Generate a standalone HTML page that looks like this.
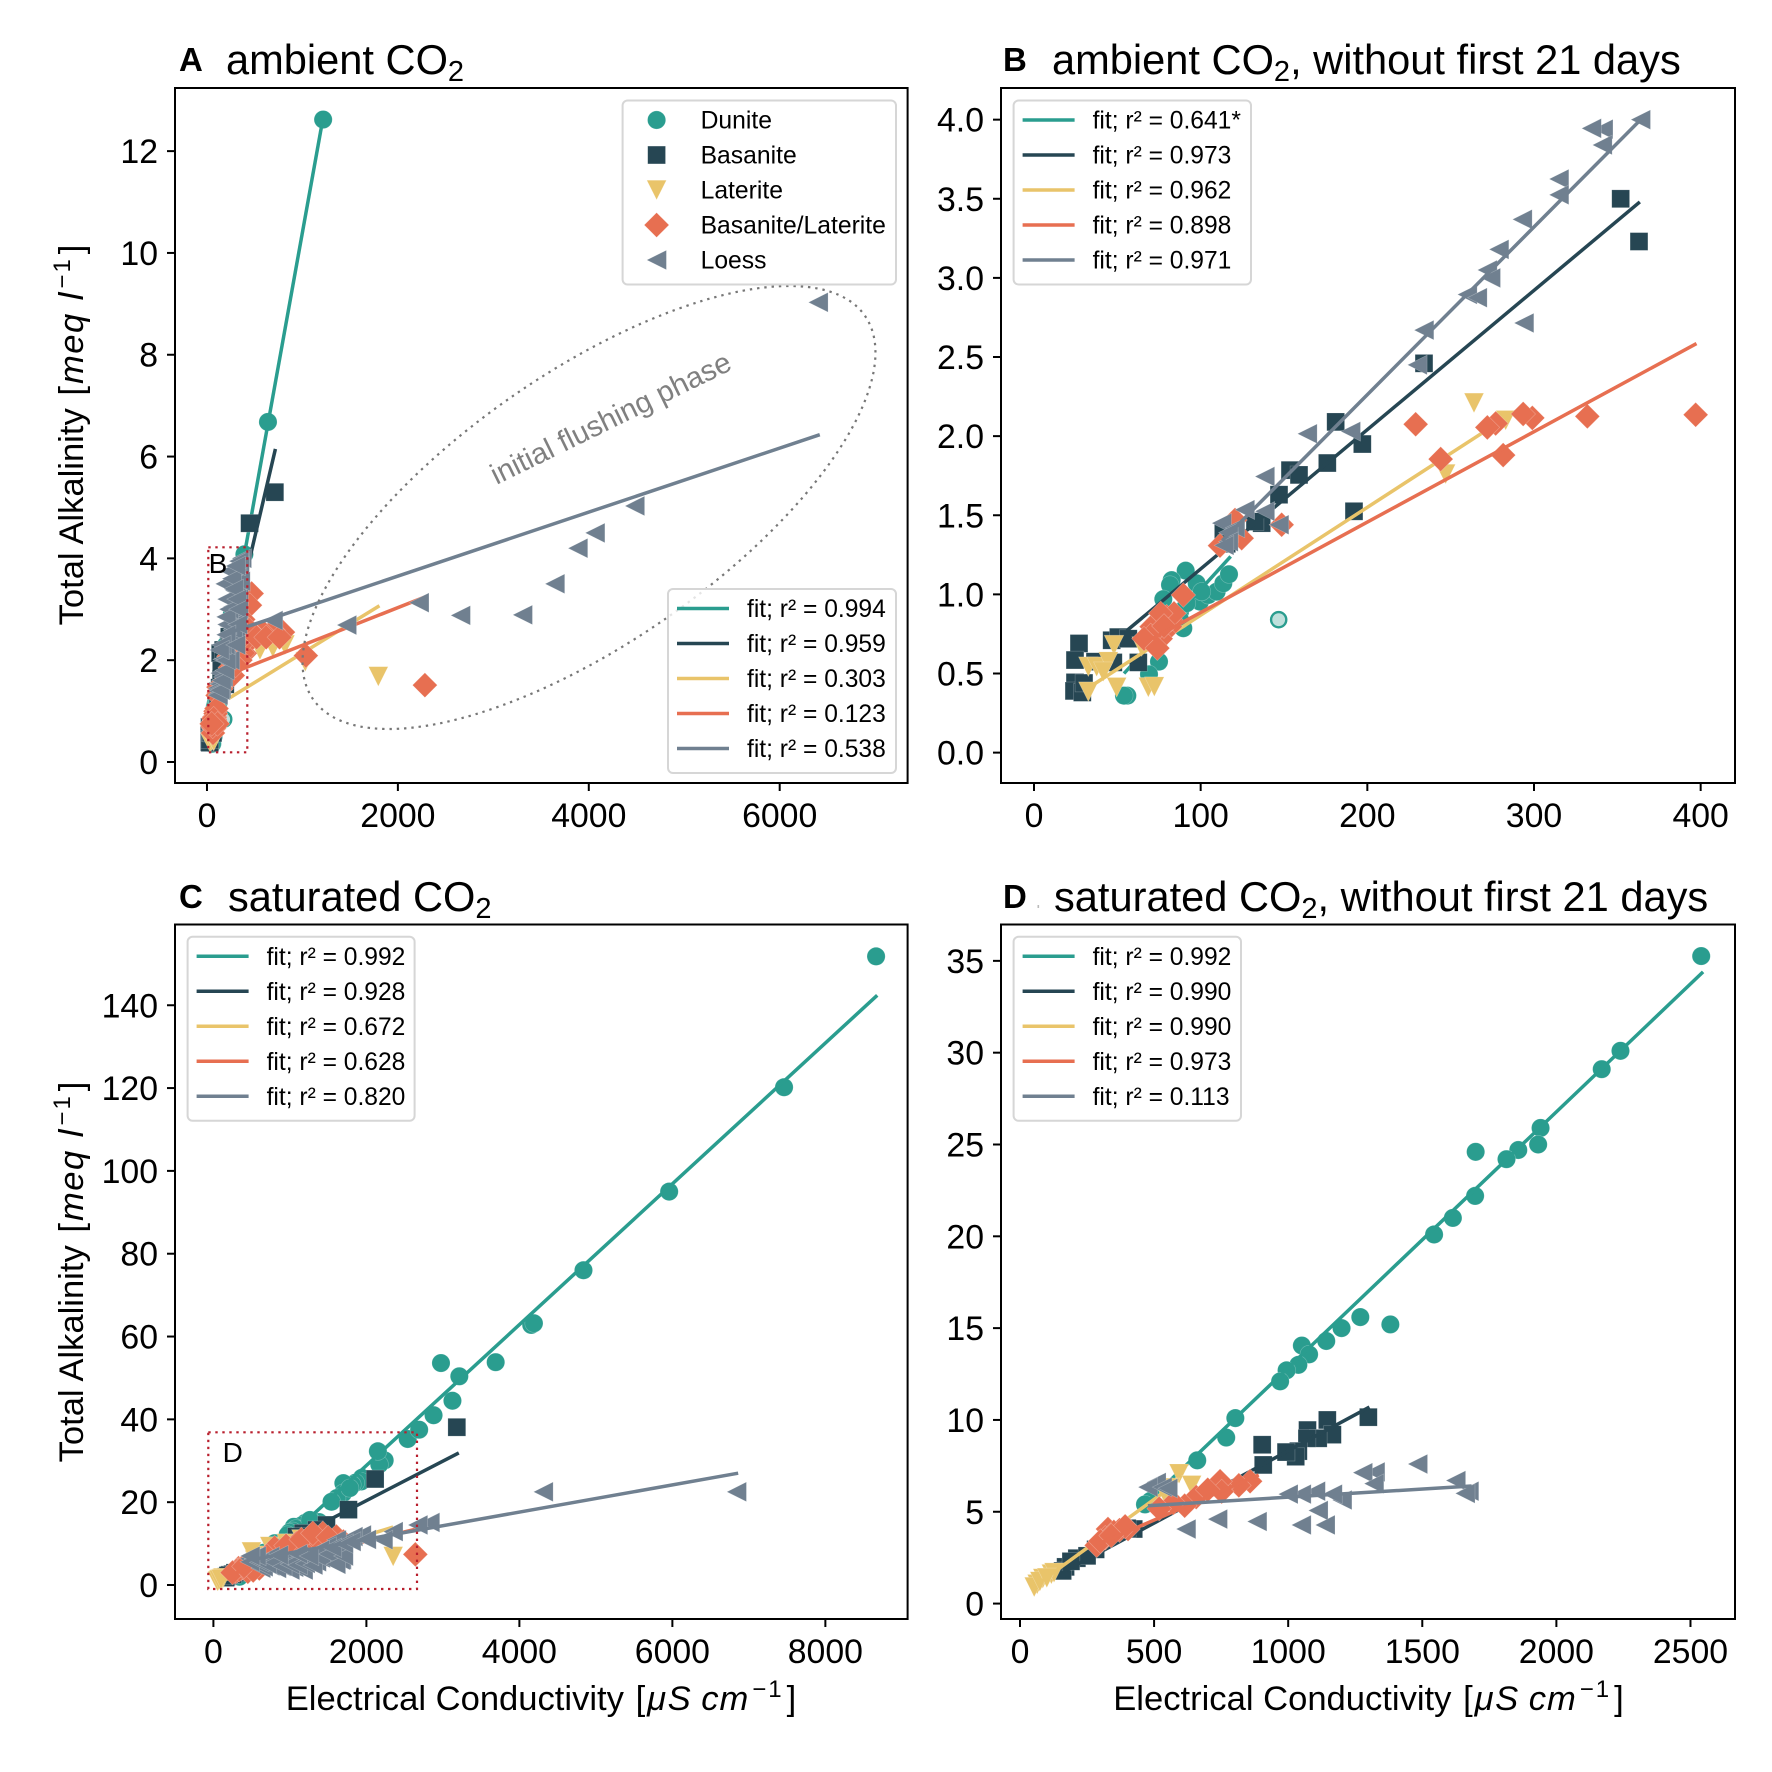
<!DOCTYPE html>
<html lang="en">
<head>
<meta charset="utf-8">
<title>Total Alkalinity vs Electrical Conductivity</title>
<style>
html,body{margin:0;padding:0;background:#fff;}
svg{display:block;font-family:"Liberation Sans",sans-serif;}
</style>
</head>
<body>
<svg id="chart" width="1772" height="1772" viewBox="0 0 1772 1772"></svg>
<script>
/* ---------- tick labels ---------- */
const panelA_xTicks = [0, 2000, 4000, 6000];
const panelA_yTicks = [0, 2, 4, 6, 8, 10, 12];
const panelB_xTicks = [0, 100, 200, 300, 400];
const panelB_yTicks = ["0.0", "0.5", "1.0", "1.5", "2.0", "2.5", "3.0", "3.5", "4.0"];
const panelC_xTicks = [0, 2000, 4000, 6000, 8000];
const panelC_yTicks = [0, 20, 40, 60, 80, 100, 120, 140];
const panelD_xTicks = [0, 500, 1000, 1500, 2000, 2500];
const panelD_yTicks = [0, 5, 10, 15, 20, 25, 30, 35];

/* ---------- axis domains ---------- */
const panelA_xDomain = [-335, 7340];
const panelA_yDomain = [-0.4126, 13.24];
const panelB_xDomain = [-19.8, 420.6];
const panelB_yDomain = [-0.192, 4.2];
const panelC_xDomain = [-502, 9075];
const panelC_yDomain = [-8.21, 159.5];
const panelD_xDomain = [-70.8, 2666];
const panelD_yDomain = [-0.84, 36.98];

/* ---------- categories and fit labels ---------- */
const seriesNames = ["Dunite", "Basanite", "Laterite", "Basanite/Laterite", "Loess"];
const panelA_r2 = ["0.994", "0.959", "0.303", "0.123", "0.538"];
const panelB_r2 = ["0.641*", "0.973", "0.962", "0.898", "0.971"];
const panelC_r2 = ["0.992", "0.928", "0.672", "0.628", "0.820"];
const panelD_r2 = ["0.992", "0.990", "0.990", "0.973", "0.113"];

/* ---------- panel B: ambient, without first 21 days ---------- */
const panelB_dunite_x = [91,82.6,81.6,77.6,99.6,104.6,109.6,113.6,117,87.6,89.6,75,69,56,54,97.6,100.6,91.6,87.6];
const panelB_dunite_y = [1.15,1.09,1.06,0.97,0.954,0.996,1.017,1.07,1.127,0.89,0.786,0.575,0.495,0.36,0.36,1.07,1.017,0.944,0.84];
const panelB_outlier_x = [146.8];
const panelB_outlier_y = [0.84];
const panelB_basanite_x = [352,363,234,181,197,176,153.6,159,147,192,136.6,132.6,113.6,115.6,27,24.6,24.6,24,29,30,36.6,46.6,50.6,56.6,47.6,62.6];
const panelB_basanite_y = [3.5,3.23,2.46,2.09,1.95,1.83,1.785,1.755,1.63,1.525,1.45,1.46,1.386,1.32,0.69,0.585,0.444,0.39,0.38,0.44,0.575,0.71,0.73,0.72,0.57,0.57];
const panelB_laterite_x = [264,283,247,48,64.6,32.6,37.6,44.6,41.6,32.6,49.6,68.6,72.2];
const panelB_laterite_y = [2.21,2.1,1.76,0.68,0.67,0.543,0.543,0.575,0.511,0.385,0.413,0.413,0.417];
const panelB_baslat_x = [397,332,299,293.5,277,272,229,244,281.5,148.6,120.6,124.6,111.6,89.6,75.6,79.6,81.6,73.6,77.6,72.6,70.6,71,76,82,84,76,70,66,74,78];
const panelB_baslat_y = [2.135,2.125,2.115,2.14,2.08,2.055,2.075,1.855,1.88,1.44,1.47,1.355,1.308,0.996,0.817,0.859,0.796,0.733,0.754,0.68,0.796,0.72,0.72,0.84,0.88,0.88,0.74,0.72,0.66,0.8];
const panelB_loess_x = [364,341.5,334.5,341,315,315,293,279,272,274,260,266,234,294,230,164,190,138.5,126.5,138.5,147,112.6,120.6,116.6,116.6,114];
const panelB_loess_y = [4.0,3.94,3.945,3.84,3.625,3.525,3.37,3.18,3.05,3.0,2.895,2.875,2.67,2.715,2.45,2.015,2.03,1.745,1.535,1.525,1.44,1.45,1.42,1.39,1.333,1.31];
const panelB_fitDunite_x = [54,118];
const panelB_fitDunite_y = [0.5,1.24];
const panelB_fitBasanite_x = [55.6,363.5];
const panelB_fitBasanite_y = [0.77,3.48];
const panelB_fitLaterite_x = [32,289.5];
const panelB_fitLaterite_y = [0.405,2.16];
const panelB_fitBaslat_x = [71,397.5];
const panelB_fitBaslat_y = [0.72,2.585];
const panelB_fitLoess_x = [113,364];
const panelB_fitLoess_y = [1.34,4.0];

/* ---------- panel A: ambient, all days ---------- */
const panelA_dunite_x = panelB_dunite_x.concat([1217,639,392,120,140,170,200,260]);
const panelA_dunite_y = panelB_dunite_y.concat([12.62,6.68,4.08,1.2,1.4,1.8,2.3,2.9]);
const panelA_outlier_x = [175];
const panelA_outlier_y = [0.84];
const panelA_basanite_x = panelB_basanite_x.concat([711,446,139,170,150]);
const panelA_basanite_y = panelB_basanite_y.concat([5.3,4.69,2.14,2.2,1.8]);
const panelA_laterite_x = panelB_laterite_x.concat([1795,1030,555,690,817,170,130]);
const panelA_laterite_y = panelB_laterite_y.concat([1.68,1.97,2.2,2.25,2.3,1.4,1.1]);
const panelA_baslat_x = panelB_baslat_x.concat([2283,1036,796,692,587,482,419,377,314,468,450,84,63,430,350,270,60,90,100,70,110,50,400,350,300,380,440,520,620,760]);
const panelA_baslat_y = panelB_baslat_y.concat([1.51,2.09,2.55,2.59,2.55,2.53,2.33,2.14,1.94,3.31,3.08,0.82,0.57,2.6,2.3,1.7,0.7,0.95,1.05,0.85,0.75,0.75,2.5,2.0,1.9,2.8,2.6,2.45,2.45,2.45]);
const panelA_loess_x = panelB_loess_x.concat([6404,4482,4066,3886,3645,3307,2657,2223,1464,692,241,168,136,150,185,200,190,250,300,270,210,330,350,240,190,210,230,200,260,300,280,310,330,320,200,150,130,300]);
const panelA_loess_y = panelB_loess_y.concat([9.03,5.03,4.5,4.2,3.5,2.89,2.88,3.13,2.69,2.78,2.0,1.67,1.41,1.6,1.8,2.0,2.3,2.4,2.5,2.6,2.7,3.3,3.55,3.75,3.5,3.2,3.0,2.85,3.6,3.85,3.4,3.2,3.0,2.7,2.5,2.3,2.2,2.3]);
const panelA_fitDunite_x = [60,1211];
const panelA_fitDunite_y = [0.62,12.6];
const panelA_fitBasanite_x = [30,717];
const panelA_fitBasanite_y = [0.65,6.15];
const panelA_fitLaterite_x = [229,1807];
const panelA_fitLaterite_y = [1.25,3.07];
const panelA_fitBaslat_x = [320,2295];
const panelA_fitBaslat_y = [1.79,3.25];
const panelA_fitLoess_x = [200,6420];
const panelA_fitLoess_y = [2.52,6.43];

/* ---------- panel D: saturated, without first 21 days ---------- */
const panelD_dunite_x = [2540,2239,2169,1941,1932,1858,1814,1699,1697,1614,1544,1381,1269,1199,1142,1051,1078,1038,994,970,803,769,661,487,466];
const panelD_dunite_y = [35.26,30.1,29.1,25.9,25,24.7,24.2,24.6,22.2,21,20.1,15.2,15.6,15,14.3,14.05,13.57,13,12.7,12.1,10.1,9.04,7.8,5.6,5.4];
const panelD_basanite_x = [1299,1146,1165,1072,1112,1070,1038,1028,992,903,907,424,400,282,212,170,159,250,190];
const panelD_basanite_y = [10.15,10,9.2,9.45,9,9,8.3,8,8.25,8.65,7.55,4.06,4.1,2.95,2.47,2,1.78,2.6,2.3];
const panelD_laterite_x = [593,640,560,540,117,85,64,53,74,127,100];
const panelD_laterite_y = [7.07,6.44,6.3,6,1.6,1.36,1.05,0.9,1.2,1.68,1.4];
const panelD_baslat_x = [858,816,752,746,657,614,572,519,403,371,328,318,286,350,392,752,700,300,340];
const panelD_baslat_y = [6.66,6.44,6.34,6.66,5.8,5.33,5.49,5.17,4.06,4,4.06,3.58,3.17,3.9,4.2,6.1,6.2,3.4,3.7];
const panelD_loess_x = [1483,1324,1278,1320,1625,1674,1660,1112,1138,1049,884,737,619,1201,1165,1102,1049,1000,508,477,530,551];
const panelD_loess_y = [7.6,7.17,7.13,6.53,6.7,6.12,6.0,5.07,4.28,4.28,4.47,4.6,4.06,5.64,5.96,6.12,5.96,5.96,6.6,6.34,6.34,6.28];
const panelD_fitDunite_x = [466,2547];
const panelD_fitDunite_y = [5.4,34.4];
const panelD_fitBasanite_x = [159,1303];
const panelD_fitBasanite_y = [1.7,10.7];
const panelD_fitLaterite_x = [64,540];
const panelD_fitLaterite_y = [1.05,6.1];
const panelD_fitBaslat_x = [297,890];
const panelD_fitBaslat_y = [3.27,7.0];
const panelD_fitLoess_x = [477,1684];
const panelD_fitLoess_y = [5.33,6.4];

/* ---------- panel C: saturated, all days ---------- */
const panelC_dunite_x = panelD_dunite_x.concat([8663,7460,5958,4838,4155,4190,3690,2975,3215,3125,2878,2690,2150,1783,1262,360,340]);
const panelC_dunite_y = panelD_dunite_y.concat([151.8,120.2,95,76,62.8,63.2,53.8,53.6,50.4,44.5,41,37.5,32.3,23.4,15.7,2.4,2]);
const panelC_basanite_x = panelD_basanite_x.concat([3182,2114,1766,1478,1348,1173,1086]);
const panelC_basanite_y = panelD_basanite_y.concat([38.1,25.6,18.2,14.5,13.3,12.5,11.7]);
const panelC_laterite_x = panelD_laterite_x.concat([2350,497,737,955,1150]);
const panelC_laterite_y = panelD_laterite_y.concat([6.9,8,9.3,10,11]);
const panelC_baslat_x = panelD_baslat_x.concat([2640,737,908,1086,1260,1431,1608,1000,1350,600,450,520,800,950,1150,1300,1500,700,1700,250,400]);
const panelC_baslat_y = panelD_baslat_y.concat([7.4,7.7,8.5,10.1,11.7,12.5,11.7,8.8,11,4,3.2,3.5,9,9.5,11,12.5,11.5,7,10.5,3,4.5]);
const panelC_loess_x = panelD_loess_x.concat([6840,4313,2830,2673,2350,2217,1935,1824,1693,1608,1522,1478,1391,1348,1173,999,955,825,737,650,476,600,700,800,900,1000,1100,1200,1300,1400,1500,1600,1700,1100,1250,850,560,480,1550,1700,1800,2000]);
const panelC_loess_y = panelD_loess_y.concat([22.5,22.5,15.1,14.5,12.9,10.9,12.1,11.7,8.4,10.9,6,9.3,8.5,5.6,3.6,3.6,6,4,6.9,4.4,5.6,5.5,5,5.5,4.5,5,4.8,5.2,4.8,6.5,7.5,5,7,7.5,7,7.2,7,7,9,10,10.5,11]);
const panelC_fitDunite_x = [320,8678];
const panelC_fitDunite_y = [0.3,142.4];
const panelC_fitBasanite_x = [200,3208];
const panelC_fitBasanite_y = [3.2,31.9];
const panelC_fitLaterite_x = [100,2350];
const panelC_fitLaterite_y = [1,14];
const panelC_fitBaslat_x = [300,2650];
const panelC_fitBaslat_y = [3,13.5];
const panelC_fitLoess_x = [436,6860];
const panelC_fitLoess_y = [5.9,27];

/* ---------- drawing ---------- */
const NS = "http://www.w3.org/2000/svg";
const svg = document.getElementById("chart");
const SERIES_COLORS = ["#2a9d8f", "#264653", "#e9c46a", "#e76f51", "#708090"];
const SERIES_KEYS = ["dunite", "basanite", "laterite", "basanite-laterite", "loess"];

function svgEl(tag, attrs, parent) {
  const el = document.createElementNS(NS, tag);
  for (const k in attrs) el.setAttribute(k, attrs[k]);
  (parent || svg).appendChild(el);
  return el;
}
function linearScale(domain, range) {
  return v => range[0] + (v - domain[0]) * (range[1] - range[0]) / (domain[1] - domain[0]);
}
function markerEl(kind, cx, cy, parent) {
  const edge = {stroke: "rgba(255,255,255,0.3)", "stroke-width": 0.6, fill: SERIES_COLORS[kind]};
  if (kind === 0) return svgEl("circle", Object.assign({cx: cx, cy: cy, r: 9.1}, edge), parent);
  if (kind === 1) return svgEl("rect", Object.assign({x: cx - 8.9, y: cy - 8.9, width: 17.8, height: 17.8}, edge), parent);
  let d;
  if (kind === 2) d = `M${cx-9.8},${cy-9.8}H${cx+9.8}L${cx},${cy+9.8}Z`;
  if (kind === 3) d = `M${cx},${cy-12.4}L${cx+12.4},${cy}L${cx},${cy+12.4}L${cx-12.4},${cy}Z`;
  if (kind === 4) d = `M${cx+9.8},${cy-9.8}V${cy+9.8}L${cx-9.8},${cy}Z`;
  return svgEl("path", Object.assign({d: d}, edge), parent);
}
function textEl(str, x, y, size, anchor, parent) {
  const el = svgEl("text", {x: x, y: y, "font-size": size, "text-anchor": anchor, fill: "#000"}, parent);
  el.textContent = str;
  return el;
}
function tspanEl(parent, str, attrs) {
  const t = svgEl("tspan", attrs, parent);
  t.textContent = str;
  return t;
}

function drawPanel(p) {
  const g = svgEl("g", {});
  
  
  const sx = linearScale(p.xDomain, [p.left, p.right]);
  const sy = linearScale(p.yDomain, [p.bottom, p.top]);

  const xAxis = svgEl("g", {}, g);
  
  
  p.xTicks.forEach(t => {
    const px = sx(Number(t));
    const tick = svgEl("line", {x1: px, x2: px, y1: p.bottom, y2: p.bottom + 8, stroke: "#000", "stroke-width": 2}, xAxis);
    
    
    const lab = textEl(String(t), px, p.bottom + 44, 33.8, "middle", xAxis);
    
    
  });
  const yAxis = svgEl("g", {}, g);
  
  
  p.yTicks.forEach(t => {
    const py = sy(Number(t));
    const tick = svgEl("line", {x1: p.left - 8, x2: p.left, y1: py, y2: py, stroke: "#000", "stroke-width": 2}, yAxis);
    
    
    const lab = textEl(String(t), p.left - 17, py + 12, 33.8, "end", yAxis);
    
    
  });

  p.series.forEach((s, i) => {
    const sg = svgEl("g", {}, g);
    
    
    s.x.forEach((v, j) => {
      const m = markerEl(i, sx(v), sy(s.y[j]), sg);
      
      
    });
    const ln = svgEl("line", {x1: sx(s.fx[0]), y1: sy(s.fy[0]), x2: sx(s.fx[1]), y2: sy(s.fy[1]), stroke: SERIES_COLORS[i], "stroke-width": 3.5}, sg);
    
    
    if (i === 0 && p.ox) {
      p.ox.forEach((v, j) => {
        const o = svgEl("circle", {cx: sx(v), cy: sy(p.oy[j]), r: 7.6, fill: "#bfe0dc", stroke: SERIES_COLORS[0], "stroke-width": 2.4}, sg);
        
        
      });
    }
  });

  const frame = svgEl("rect", {x: p.left, y: p.top, width: p.right - p.left, height: p.bottom - p.top, fill: "none", stroke: "#000", "stroke-width": 2}, g);
  
  
  return g;
}

function legendFrame(g, x, y, w, h) {
  const r = svgEl("rect", {x: x, y: y, width: w, height: h, rx: 5, fill: "rgba(255,255,255,0.8)", stroke: "#d6d6d6", "stroke-width": 2}, g);
  
  
}
function fitLegend(parent, x, y, w, r2List) {
  const g = svgEl("g", {}, parent);
  
  
  legendFrame(g, x, y, w, 184);
  r2List.forEach((r, i) => {
    const ry = y + 19.5 + i * 35;
    const entry = svgEl("g", {}, g);
    
    
    const ln = svgEl("line", {x1: x + 9, x2: x + 61, y1: ry, y2: ry, stroke: SERIES_COLORS[i], "stroke-width": 3.5}, entry);
    
    
    const t = textEl("fit; r\u00b2 = " + r, x + 79, ry + 8.5, 24.6, "start", entry);
    
    
  });
}
function markerLegend(parent, x, y, w) {
  const g = svgEl("g", {}, parent);
  
  
  legendFrame(g, x, y, w, 184);
  seriesNames.forEach((n, i) => {
    const ry = y + 19.5 + i * 35;
    const entry = svgEl("g", {}, g);
    
    
    const m = markerEl(i, x + 34, ry, entry);
    
    
    const t = textEl(n, x + 78, ry + 8.5, 24.7, "start", entry);
    
    
  });
}
function panelTitle(letter, lx, tx, y, main, suffix) {
  const l = textEl(letter, lx, y - 3, 33, "start");
  l.setAttribute('font-weight', 'bold');
  
  
  const t = textEl("", tx, y, 41.6, "start");
  
  
  tspanEl(t, main, {});
  tspanEl(t, "2", {"font-size": 29, dy: 7});
  if (suffix) tspanEl(t, suffix, {dy: -7});
}
function mathTail(t, parts) {
  tspanEl(t, parts[0], {"font-style": "italic", "letter-spacing": 1.5, dx: 2});
  if (parts[1]) tspanEl(t, parts[1], {"font-style": "italic", "letter-spacing": 1, dx: parts[2]});
  tspanEl(t, "\u22121", {"font-size": 24, dy: -13, dx: 3, "letter-spacing": 2});
  tspanEl(t, "]", {dy: 13, dx: 3});
}
function xLabel(cx, y) {
  const t = textEl("", cx, y, 34.6, "middle");
  
  
  tspanEl(t, "Electrical Conductivity ", {});
  tspanEl(t, "[", {dx: 2});
  mathTail(t, ["\u03bcS", "cm", 9]);
}
function yLabel(cx, cy) {
  const t = textEl("", 0, 0, 34.6, "middle");
  t.setAttribute('transform', `translate(${cx},${cy}) rotate(-90)`);
  
  
  tspanEl(t, "Total Alkalinity ", {});
  tspanEl(t, "[", {dx: 3});
  mathTail(t, ["meq", "l", 12]);
}
function zoomBox(x, y, w, h, label, lx, ly, name) {
  const r = svgEl("rect", {x: x, y: y, width: w, height: h, fill: "none", stroke: "#b81f2d", "stroke-width": 2.2, "stroke-dasharray": "2.4 4.6"});
  
  
  const t = textEl(label, lx, ly, 28, "middle");
  
  
}

const gA = drawPanel({
  id: "a", left: 175, right: 907.6, top: 88, bottom: 783,
  xDomain: panelA_xDomain, yDomain: panelA_yDomain, xTicks: panelA_xTicks, yTicks: panelA_yTicks,
  ox: panelA_outlier_x, oy: panelA_outlier_y,
  series: [
    {x: panelA_dunite_x, y: panelA_dunite_y, fx: panelA_fitDunite_x, fy: panelA_fitDunite_y},
    {x: panelA_basanite_x, y: panelA_basanite_y, fx: panelA_fitBasanite_x, fy: panelA_fitBasanite_y},
    {x: panelA_laterite_x, y: panelA_laterite_y, fx: panelA_fitLaterite_x, fy: panelA_fitLaterite_y},
    {x: panelA_baslat_x, y: panelA_baslat_y, fx: panelA_fitBaslat_x, fy: panelA_fitBaslat_y},
    {x: panelA_loess_x, y: panelA_loess_y, fx: panelA_fitLoess_x, fy: panelA_fitLoess_y}
  ]
});
const gB = drawPanel({
  id: "b", left: 1001, right: 1735, top: 88, bottom: 783,
  xDomain: panelB_xDomain, yDomain: panelB_yDomain, xTicks: panelB_xTicks, yTicks: panelB_yTicks,
  ox: panelB_outlier_x, oy: panelB_outlier_y,
  series: [
    {x: panelB_dunite_x, y: panelB_dunite_y, fx: panelB_fitDunite_x, fy: panelB_fitDunite_y},
    {x: panelB_basanite_x, y: panelB_basanite_y, fx: panelB_fitBasanite_x, fy: panelB_fitBasanite_y},
    {x: panelB_laterite_x, y: panelB_laterite_y, fx: panelB_fitLaterite_x, fy: panelB_fitLaterite_y},
    {x: panelB_baslat_x, y: panelB_baslat_y, fx: panelB_fitBaslat_x, fy: panelB_fitBaslat_y},
    {x: panelB_loess_x, y: panelB_loess_y, fx: panelB_fitLoess_x, fy: panelB_fitLoess_y}
  ]
});
const gC = drawPanel({
  id: "c", left: 175, right: 907.6, top: 924.5, bottom: 1619,
  xDomain: panelC_xDomain, yDomain: panelC_yDomain, xTicks: panelC_xTicks, yTicks: panelC_yTicks,
  series: [
    {x: panelC_dunite_x, y: panelC_dunite_y, fx: panelC_fitDunite_x, fy: panelC_fitDunite_y},
    {x: panelC_basanite_x, y: panelC_basanite_y, fx: panelC_fitBasanite_x, fy: panelC_fitBasanite_y},
    {x: panelC_laterite_x, y: panelC_laterite_y, fx: panelC_fitLaterite_x, fy: panelC_fitLaterite_y},
    {x: panelC_baslat_x, y: panelC_baslat_y, fx: panelC_fitBaslat_x, fy: panelC_fitBaslat_y},
    {x: panelC_loess_x, y: panelC_loess_y, fx: panelC_fitLoess_x, fy: panelC_fitLoess_y}
  ]
});
const gD = drawPanel({
  id: "d", left: 1001, right: 1735, top: 924.5, bottom: 1619,
  xDomain: panelD_xDomain, yDomain: panelD_yDomain, xTicks: panelD_xTicks, yTicks: panelD_yTicks,
  series: [
    {x: panelD_dunite_x, y: panelD_dunite_y, fx: panelD_fitDunite_x, fy: panelD_fitDunite_y},
    {x: panelD_basanite_x, y: panelD_basanite_y, fx: panelD_fitBasanite_x, fy: panelD_fitBasanite_y},
    {x: panelD_laterite_x, y: panelD_laterite_y, fx: panelD_fitLaterite_x, fy: panelD_fitLaterite_y},
    {x: panelD_baslat_x, y: panelD_baslat_y, fx: panelD_fitBaslat_x, fy: panelD_fitBaslat_y},
    {x: panelD_loess_x, y: panelD_loess_y, fx: panelD_fitLoess_x, fy: panelD_fitLoess_y}
  ]
});

/* annotations */
const flushEllipse = svgEl("ellipse", {cx: 589, cy: 507.5, rx: 336, ry: 135, transform: "rotate(-34.8 589 507.5)", fill: "none", stroke: "#777", "stroke-width": 2.2, "stroke-dasharray": "2.4 4.9"});


const flushText = textEl("initial flushing phase", 0, 0, 29.3, "middle");
flushText.setAttribute('transform', 'translate(615,427) rotate(-26.1)');
flushText.setAttribute('fill', '#808080');



markerLegend(svg, 622.6, 100.5, 273.4);
fitLegend(svg, 668, 589, 228, panelA_r2);
fitLegend(svg, 1013.6, 100.5, 237.4, panelB_r2);
fitLegend(svg, 187.6, 936.8, 227, panelC_r2);
fitLegend(svg, 1013.6, 936.8, 227.4, panelD_r2);

zoomBox(208.3, 547.3, 39, 205, "B", 218, 573, "zoom-box-b");
zoomBox(208.3, 1432.3, 208.7, 156.7, "D", 232.7, 1462, "zoom-box-d");

panelTitle("A", 179, 226, 74, "ambient CO", "");
panelTitle("B", 1003, 1052, 74, "ambient CO", ", without first 21 days");
panelTitle("C", 179, 228, 911, "saturated CO", "");
panelTitle("D", 1003, 1054, 911, "saturated CO", ", without first 21 days");

const titleSpeck = svgEl("rect", {x: 1037.5, y: 905, width: 1.6, height: 3, fill: "#bbb"});



xLabel(541, 1710);
xLabel(1368.5, 1710);
yLabel(83, 435);
yLabel(83, 1272);
</script>
</body>
</html>
